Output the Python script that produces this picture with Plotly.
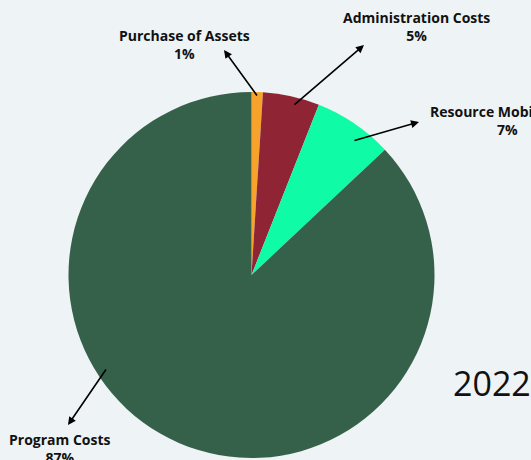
import plotly.graph_objects as go

labels = ["Purchase of Assets", "Administration Costs", "Resource Mobilization", "Program Costs"]
values = [1, 5, 7, 87]
colors = ["#F6A22B", "#8E2434", "#0FFBA6", "#35614A"]
year_label = "2022"

W, H = 531, 460

fig = go.Figure(go.Pie(
    labels=labels, values=values, sort=False, direction="clockwise", rotation=0,
    marker=dict(colors=colors, line=dict(width=0)),
    textinfo="none", hoverinfo="skip", showlegend=False,
    domain=dict(x=[68.5 / W, 434.5 / W], y=[2 / H, 368 / H]),
))

# label text positions (pixel centers) and arrow tail/head pixel points
label_pos = [(184, 44), (416, 27), (507, 121), (60, 448)]
arrows = [((258, 97), (224, 50)), ((293, 106), (364, 45)), ((353, 141), (419, 122)), ((107, 368), (68, 425))]

annotations = []
for lab, val, (lx, ly), ((tx, ty), (hx, hy)) in zip(labels, values, label_pos, arrows):
    annotations.append(dict(
        x=lx / W, y=1 - ly / H, xref="paper", yref="paper",
        text=f"<b>{lab}</b><br><b>{val}%</b>", showarrow=False,
        font=dict(family="Open Sans", size=14, color="#111111"), align="center",
        xanchor="center", yanchor="middle",
    ))
    annotations.append(dict(
        x=hx / W, y=1 - hy / H, xref="paper", yref="paper", text="",
        showarrow=True, ax=tx - hx, ay=ty - hy, axref="pixel", ayref="pixel",
        arrowhead=2, arrowsize=1, arrowwidth=1.6, arrowcolor="#000000", standoff=0, startstandoff=0,
    ))

annotations.append(dict(
    x=451 / W, y=1 - 383 / H, xref="paper", yref="paper", text=year_label,
    showarrow=False, xanchor="left", yanchor="middle",
    font=dict(family="Open Sans", size=34, color="#111111"),
))

fig.update_layout(
    width=W, height=H, margin=dict(l=0, r=0, t=0, b=0),
    paper_bgcolor="#EEF3F5", plot_bgcolor="#EEF3F5",
    annotations=annotations,
)

fig.write_html("out.html", config={"displayModeBar": False},
               post_script="document.body.style.margin='0';document.body.style.overflow='hidden';")
